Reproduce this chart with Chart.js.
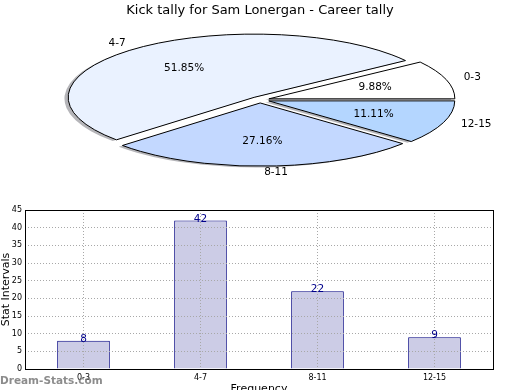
<!DOCTYPE html>
<html>
<head>
<meta charset="utf-8">
<script src="https://cdn.jsdelivr.net/npm/chart.js@4.4.1/dist/chart.umd.min.js"></script>
<style>
  html, body { margin: 0; padding: 0; background: #fff; }
  body { width: 520px; height: 390px; overflow: hidden; position: relative; }
  #pieChart { position: absolute; left: 0; top: 0; }
  #barChart { position: absolute; left: 0; top: 200px; }
  #mark { position: absolute; left: 0; top: 374px; line-height: 12px;
          font: bold 10.5px "DejaVu Sans"; color: rgba(120, 120, 120, 0.85); }
</style>
</head>
<body>
<canvas id="pieChart" width="520" height="200"></canvas>
<canvas id="barChart" width="520" height="200"></canvas>
<div id="mark">Dream-Stats.com</div>
<script>
// data
var chartTitle = 'Kick tally for Sam Lonergan - Career tally';
var categories = ['0-3', '4-7', '8-11', '12-15'];
var frequency = [8, 42, 22, 9];
var yTicks = [0, 5, 10, 15, 20, 25, 30, 35, 40, 45];
var sliceColors = ['#ffffff', '#eaf2ff', '#c3d8ff', '#b4d6ff'];

var FONT = '"DejaVu Sans"';
var squash = 0.34;      // ellipse height / width
var explodeFrac = 0.05; // every slice pulled out a little

// matplotlib goes counter clockwise from 3 o'clock, chart.js clockwise -> reverse
var pieLabels = categories.slice().reverse();
var pieValues = frequency.slice().reverse();
var pieColors = sliceColors.slice().reverse();

function midAngle(a) { return (a.startAngle + a.endAngle) / 2; }

var ellipsePie = {
    id: 'ellipsePie',
    beforeDatasetsDraw: function(chart) {
        var ctx = chart.ctx;
        var arcs = chart.getDatasetMeta(0).data;

        // outline path of a slice, squashed and exploded (stroke later without transform)
        function slicePath(a, dx, dy) {
            var r = a.outerRadius, m = midAngle(a);
            ctx.save();
            ctx.translate(a.x + dx, a.y + dy);
            ctx.scale(1, squash);
            ctx.translate(Math.cos(m) * r * explodeFrac, Math.sin(m) * r * explodeFrac);
            ctx.beginPath();
            ctx.moveTo(0, 0);
            ctx.arc(0, 0, r, a.startAngle, a.endAngle);
            ctx.closePath();
            ctx.restore();
        }

        // shadow under everything
        arcs.forEach(function(a) {
            var r = a.outerRadius;
            slicePath(a, -0.02 * r, 0.02 * r * squash);
            ctx.fillStyle = 'rgba(70, 70, 80, 0.4)';
            ctx.fill();
        });

        arcs.forEach(function(a) {
            var r = a.outerRadius, m = midAngle(a);
            ctx.save();
            ctx.translate(a.x, a.y);
            ctx.scale(1, squash);
            ctx.translate(-a.x + Math.cos(m) * r * explodeFrac, -a.y + Math.sin(m) * r * explodeFrac);
            a.draw(ctx);
            ctx.restore();

            slicePath(a, 0, 0);
            ctx.lineWidth = 1;
            ctx.strokeStyle = '#000';
            ctx.stroke();
        });
        return false;
    },
    afterDraw: function(chart) {
        var ctx = chart.ctx;
        var arcs = chart.getDatasetMeta(0).data;
        var values = chart.data.datasets[0].data;
        var total = values.reduce(function(s, v) { return s + v; }, 0);
        ctx.save();
        ctx.font = '10.5px ' + FONT;
        ctx.fillStyle = '#000';
        ctx.textBaseline = 'middle';
        arcs.forEach(function(a, i) {
            var r = a.outerRadius, m = midAngle(a);
            var c = Math.cos(m), s = Math.sin(m);
            ctx.textAlign = c >= 0 ? 'left' : 'right';
            ctx.fillText(chart.data.labels[i],
                a.x + c * r * (1.1 + explodeFrac), a.y + s * r * (1.1 + explodeFrac) * squash);
            ctx.textAlign = 'center';
            ctx.fillText((values[i] / total * 100).toFixed(2) + '%',
                a.x + c * r * (0.6 + explodeFrac), a.y + s * r * (0.6 + explodeFrac) * squash);
        });
        ctx.restore();
    }
};

new Chart(document.getElementById('pieChart'), {
    type: 'pie',
    data: {
        labels: pieLabels,
        datasets: [{
            data: pieValues,
            backgroundColor: pieColors,
            borderWidth: 0
        }]
    },
    options: {
        responsive: false,
        animation: false,
        events: [],
        rotation: 90,
        radius: 186,
        layout: { padding: { bottom: 19 } },
        plugins: {
            legend: { display: false },
            tooltip: { enabled: false },
            title: {
                display: true,
                text: chartTitle,
                color: '#000',
                font: { family: FONT, size: 13, weight: 'normal' },
                padding: { top: 3, bottom: 0 }
            }
        }
    },
    plugins: [ellipsePie]
});

var barExtras = {
    id: 'barExtras',
    afterDraw: function(chart) {
        var ctx = chart.ctx, a = chart.chartArea;
        ctx.save();
        ctx.strokeStyle = '#000';
        ctx.lineWidth = 1;
        ctx.strokeRect(Math.round(a.left) + 0.5, Math.round(a.top) + 0.5,
            Math.round(a.right - a.left), Math.round(a.bottom - a.top));
        // value above each bar
        ctx.font = '10.5px ' + FONT;
        ctx.fillStyle = '#00008b';
        ctx.textAlign = 'center';
        ctx.textBaseline = 'alphabetic';
        var values = chart.data.datasets[0].data;
        chart.getDatasetMeta(0).data.forEach(function(bar, i) {
            ctx.fillText(String(values[i]), bar.x, bar.y + 1);
        });
        ctx.restore();
    }
};

new Chart(document.getElementById('barChart'), {
    type: 'bar',
    data: {
        labels: categories,
        datasets: [{
            data: frequency,
            backgroundColor: '#cccce6',
            borderColor: '#000080',
            borderWidth: 1,
            barPercentage: 0.45,
            categoryPercentage: 1
        }]
    },
    options: {
        responsive: false,
        animation: false,
        events: [],
        layout: { padding: { top: 10, right: 27, left: 0, bottom: 0 } },
        plugins: {
            legend: { display: false },
            tooltip: { enabled: false }
        },
        scales: {
            x: {
                afterFit: function(scale) { scale.height = 31; },
                grid: { offset: false, color: '#a8a8a8', drawTicks: false, z: 1 },
                border: { display: false, dash: [1, 2] },
                ticks: { color: '#000', padding: 4, font: { family: FONT, size: 8 } },
                title: {
                    display: true, text: 'Frequency', color: '#000',
                    font: { family: FONT, size: 11 }, padding: { top: 0, bottom: 4 }
                }
            },
            y: {
                min: yTicks[0],
                max: yTicks[yTicks.length - 1],
                afterFit: function(scale) { scale.width = 25; },
                grid: { color: '#a8a8a8', drawTicks: false, z: 1 },
                border: { display: false, dash: [1, 2] },
                ticks: {
                    stepSize: yTicks[1] - yTicks[0],
                    color: '#000', padding: 3,
                    font: { family: FONT, size: 8 }
                },
                title: {
                    display: true, text: 'Stat Intervals', color: '#000',
                    font: { family: FONT, size: 11 }, padding: 0
                }
            }
        }
    },
    plugins: [barExtras]
});
</script>
</body>
</html>
